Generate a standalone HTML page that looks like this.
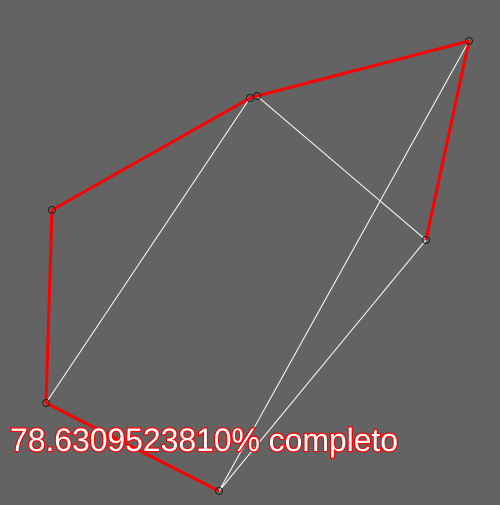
<!DOCTYPE html>
<html><head><meta charset="utf-8"><style>body{margin:0;background:#636363}</style></head>
<body>
<svg width="500" height="500">
<rect width="500" height="500" fill="#636363"/>
<g id="g"></g>
<text x="10" y="451" font-family="Liberation Sans, sans-serif" font-size="32" fill="#fff" stroke="#f00" stroke-width="2.5" paint-order="stroke" textLength="388">78.6309523810% completo</text>
</svg>
<script>
const px=[469,257,250,52,426,46,219];
const py=[41,96,98,210,240,403,491];
const hull=[[5,3],[3,2],[2,1],[1,0],[0,4],[5,6]];
const edges=[[2,5],[1,4],[0,6],[4,6]];
const g=document.getElementById('g');
const NS='http://www.w3.org/2000/svg';
function ln(a,b,c,w,n){const l=document.createElementNS(NS,'line');
l.setAttribute('x1',px[a]);l.setAttribute('y1',py[a]);l.setAttribute('x2',px[b]);l.setAttribute('y2',py[b]);
l.setAttribute('stroke',c);l.setAttribute('stroke-width',w);


g.appendChild(l);}
edges.forEach(e=>ln(e[0],e[1],'#fff',1,'edge-line'));
hull.forEach(e=>ln(e[0],e[1],'#f00',3,'hull-edge'));
px.forEach((x,i)=>{const c=document.createElementNS(NS,'circle');
c.setAttribute('cx',x);c.setAttribute('cy',py[i]);c.setAttribute('r',3.5);
c.setAttribute('fill','none');c.setAttribute('stroke','#222');


g.appendChild(c);});
</script>
</body></html>
